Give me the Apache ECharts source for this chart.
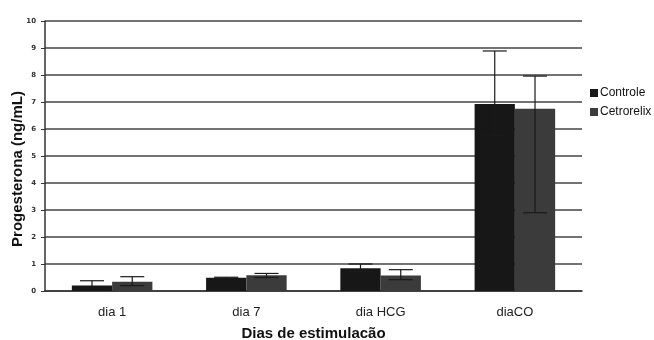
<!DOCTYPE html>
<html><head><meta charset="utf-8">
<script src="https://cdn.jsdelivr.net/npm/echarts@6/dist/echarts.min.js"></script>
<style>html,body{margin:0;padding:0;background:#fff}#c{width:654px;height:340px}</style>
</head><body><div id="c"></div>
<script>
var categories = ['dia 1', 'dia 7', 'dia HCG', 'diaCO'];
var controle = [0.2, 0.49, 0.84, 6.93];
var cetrorelix = [0.34, 0.58, 0.57, 6.75];
var controleLow = [0.02, 0.47, 0.72, 5.77];
var controleHigh = [0.38, 0.51, 1.0, 8.89];
var cetrorelixLow = [0.2, 0.5, 0.42, 2.9];
var cetrorelixHigh = [0.53, 0.65, 0.79, 7.96];
var yTicks = [0,1,2,3,4,5,6,7,8,9,10];

var chart = echarts.init(document.getElementById('c'));
function errSeries(low, high, side){
  return {
    type: 'custom', silent: true, z: 10,
    data: categories.map(function(c,i){return [i, low[i], high[i]];}),
    renderItem: function(params, api){
      var band = api.size([1,0])[0];
      var off = side * band * 0.15;
      var lo = api.coord([api.value(0), api.value(1)]);
      var hi = api.coord([api.value(0), api.value(2)]);
      var x = lo[0] + off, hw = 12;
      var st = {stroke:'#1a1a1a', lineWidth:1.2};
      return {type:'group', children:[
        {type:'line', shape:{x1:x,y1:lo[1],x2:x,y2:hi[1]}, style:st},
        {type:'line', shape:{x1:x-hw,y1:lo[1],x2:x+hw,y2:lo[1]}, style:st},
        {type:'line', shape:{x1:x-hw,y1:hi[1],x2:x+hw,y2:hi[1]}, style:st}
      ]};
    }
  };
}
chart.setOption({
  animation: false,
  grid: {left: 45, right: 72, top: 21, bottom: 49, containLabel: false, outerBoundsMode: 'none'},
  legend: {
    orient: 'vertical', left: 585, top: 82, itemWidth: 8, itemHeight: 8, itemGap: 7,
    icon: 'rect',
    textStyle: {fontFamily: 'Liberation Sans', fontSize: 12, color: '#111', padding: [0,0,0,-3]},
    data: ['Controle', 'Cetrorelix']
  },
  xAxis: {
    type: 'category', data: categories,
    name: 'Dias de estimulacão', nameLocation: 'middle', nameGap: 35, nameMoveOverlap: false,
    nameTextStyle: {fontFamily: 'Liberation Sans', fontSize: 15, fontWeight: 'bold', color: '#111'},
    axisLine: {lineStyle: {color: '#333', width: 1.5}},
    axisTick: {alignWithLabel: true, length: 5, lineStyle: {color: '#333'}},
    axisLabel: {fontFamily: 'Liberation Sans', fontSize: 13, color: '#222', margin: 15}
  },
  yAxis: {
    type: 'value', min: 0, max: 10, interval: 1,
    name: 'Progesterona (ng/mL)', nameLocation: 'middle', nameGap: 20, nameMoveOverlap: false,
    nameTextStyle: {fontFamily: 'Liberation Sans', fontSize: 15, fontWeight: 'bold', color: '#111',
      padding: [0, 26, 0, 0]},
    axisLine: {show: true, lineStyle: {color: '#333', width: 1.5}},
    axisTick: {show: true, length: 4, lineStyle: {color: '#333'}},
    axisLabel: {fontFamily: 'DejaVu Sans', fontSize: 7, fontWeight: 'bold', color: '#333', margin: 9,
      formatter: function(v){return yTicks.indexOf(v) >= 0 ? String(v) : '';}},
    splitLine: {lineStyle: {color: '#444', width: 1.5}}
  },
  series: [
    {name: 'Controle', type: 'bar', data: controle, barWidth: '30%', barGap: '0%',
     itemStyle: {color: '#171717'}},
    {name: 'Cetrorelix', type: 'bar', data: cetrorelix, barWidth: '30%', barGap: '0%',
     itemStyle: {color: '#3b3b3b'}},
    errSeries(controleLow, controleHigh, -1),
    errSeries(cetrorelixLow, cetrorelixHigh, 1)
  ]
});
</script></body></html>
